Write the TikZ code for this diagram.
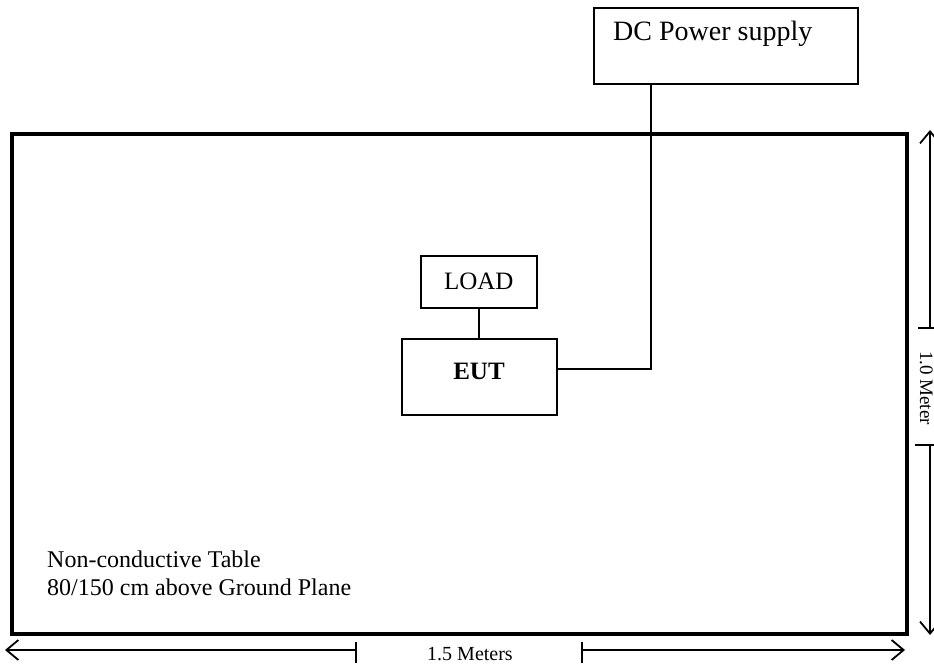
\documentclass[tikz,border=0pt]{standalone}
\usepackage{fontspec}
\setmainfont{Liberation Serif}
\usetikzlibrary{arrows.meta}
\begin{document}
\begin{tikzpicture}[x=1pt,y=-1pt,
  box/.style={draw,line width=1.6pt,inner sep=0pt},
  wire/.style={line width=1.6pt},
  dim/.style={line width=1.6pt,-{Straight Barb[length=12pt,width=20pt,line width=1.8pt]}},
  tick/.style={line width=1.6pt}]
\useasboundingbox (0,0) rectangle (934,668);
% table
\node[box,line width=4pt,minimum width=895pt,minimum height=500pt,anchor=north west] (table) at (10,132) {};
% DC power supply
\node[box,minimum width=264pt,minimum height=76pt,anchor=north west] (dc) at (593,7) {};
\node[anchor=base west,inner sep=0pt,font=\fontsize{28}{32}\selectfont] (dct) at (613,41) {DC Power supply};
% LOAD
\node[box,minimum width=116pt,minimum height=52pt,anchor=north west,font=\fontsize{25}{28}\selectfont] (load) at (420,255) {LOAD};
% EUT
\node[box,minimum width=155pt,minimum height=76pt,anchor=north west] (eut) at (401,338) {};
\node[anchor=base,inner sep=0pt,font=\fontsize{25}{28}\selectfont\bfseries] (eutt) at (479,379) {EUT};
% connectors
\coordinate (bend) at (651,369);
\draw[wire] (load.south) -- (load.south |- eut.north);
\draw[wire] (dc.south -| bend) -- (bend) -- (eut.east |- bend);
% text in table
\node[anchor=base west,align=left,font=\fontsize{24}{28}\selectfont,inner sep=0pt] (tabtext) at (47,595) {Non-conductive Table\\80/150 cm above Ground Plane};
% horizontal dimension
\coordinate (hl) at (5,650);
\coordinate (hr) at (905,650);
\coordinate (hg1) at (356,650);
\coordinate (hg2) at (582,650);
\draw[dim] (hg1) -- (hl);
\draw[dim] (hg2) -- (hr);
\draw[tick] (356,642) -- (356,663);
\draw[tick] (582,642) -- (582,663);
\node[anchor=base,inner sep=0pt,font=\fontsize{20}{24}\selectfont] (hlab) at (470,660) {1.5 Meters};
% vertical dimension
\coordinate (vt) at (930,130);
\coordinate (vb) at (930,635);
\coordinate (vg1) at (930,328);
\coordinate (vg2) at (930,445);
\draw[dim] (vg1) -- (vt);
\draw[dim] (vg2) -- (vb);
\draw[tick] (918,328) -- (936,328);
\draw[tick] (915,445) -- (936,445);
\node[rotate=-90,anchor=base,inner sep=0pt,font=\fontsize{19}{22}\selectfont] (vlab) at (920,388) {1.0 Meter};
\end{tikzpicture}
\end{document}
